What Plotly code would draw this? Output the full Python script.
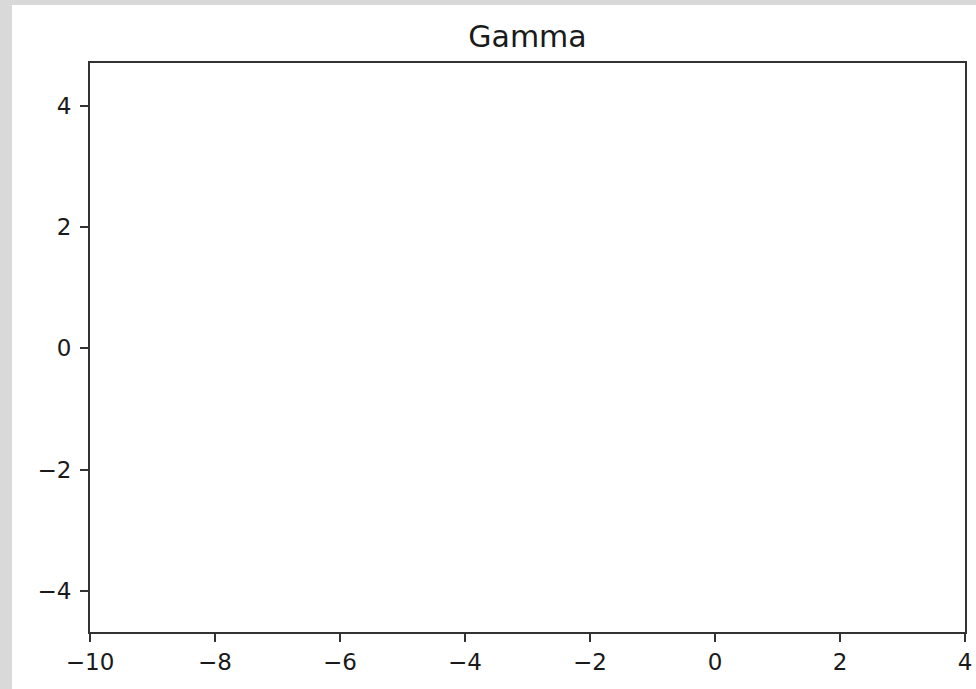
import plotly.graph_objects as go

# Data: the reference panel is empty (no marks drawn)
x_values = []
y_values = []
title_text = "Gamma"
x_range = [-10, 4]
y_range = [-4.68, 4.71]
x_ticks = [-10, -8, -6, -4, -2, 0, 2, 4]
y_ticks = [-4, -2, 0, 2, 4]

W, H = 976, 689
L, R, T, B = 90, 11, 63, 57
pw, ph = W - L - R, H - T - B

def px_x(p):
    return (p - L) / pw

def px_y(p):
    return (H - B - p) / ph

fig = go.Figure()
fig.add_trace(go.Scatter(x=x_values, y=y_values, mode="lines",
                         line=dict(color="#1f77b4"), showlegend=False))

font = dict(family="DejaVu Sans", size=23, color="#1a1a1a")

axis_common = dict(
    showgrid=False, zeroline=False,
    showline=True, mirror=True, linecolor="#333333", linewidth=1.8,
    ticks="outside", ticklen=8, tickwidth=1.5, tickcolor="#333333",
    tickfont=font, fixedrange=True,
)

fig.update_xaxes(range=x_range, tickvals=x_ticks, ticktext=[str(v).replace("-", "\u2212") for v in x_ticks], **axis_common)
fig.update_yaxes(range=y_range, tickvals=y_ticks, ticktext=[str(v).replace("-", "\u2212") for v in y_ticks], ticklabelstandoff=4, **axis_common)

fig.add_shape(type="rect", xref="paper", yref="paper",
              x0=px_x(12), x1=px_x(W + 5), y0=px_y(H + 5), y1=px_y(5),
              fillcolor="white", line=dict(width=0), layer="below")

fig.update_layout(
    width=W, height=H,
    margin=dict(l=L, r=R, t=T, b=B, autoexpand=False),
    paper_bgcolor="#d9d9d9", plot_bgcolor="white",
    title=dict(text=title_text, x=0.5, xref="paper", xanchor="center",
               y=1 - 36 / H, yref="container", yanchor="middle",
               font=dict(family="DejaVu Sans", size=30, color="#1a1a1a")),
    showlegend=False,
)

fig.write_html("out.html", config={"displayModeBar": False},
               post_script="document.body.style.margin='0';document.body.style.overflow='hidden';")
